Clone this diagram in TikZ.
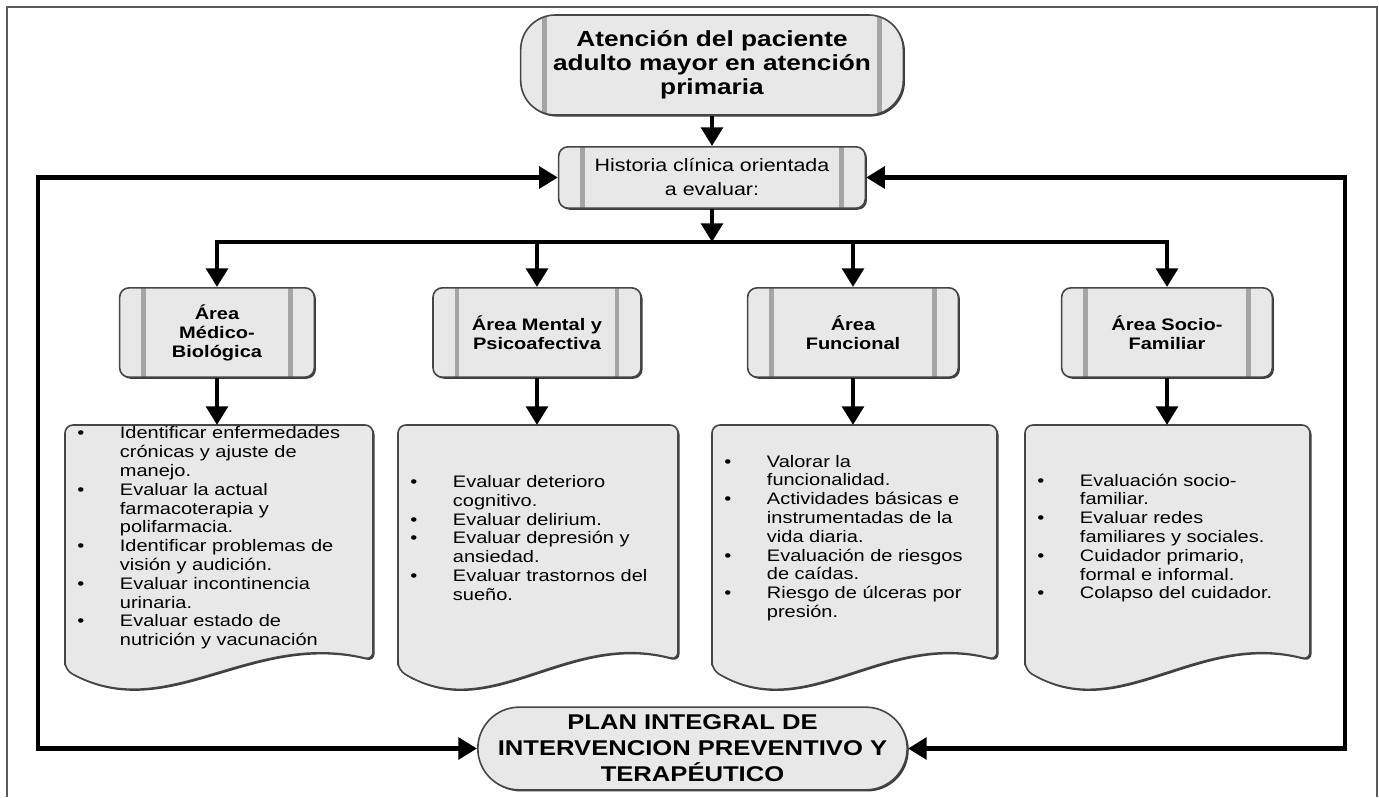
\documentclass[tikz,border=0pt]{standalone}
\usepackage{fontspec}
\setmainfont{Liberation Sans}[FakeStretch=1.2]
\usepackage{tikz}
\usetikzlibrary{arrows.meta,positioning,shadows,calc}
\definecolor{boxfill}{RGB}{232,232,232}
\definecolor{boxline}{RGB}{70,70,70}
\definecolor{barcol}{RGB}{165,165,165}
\definecolor{framecol}{RGB}{90,90,90}
\newcommand{\comma}{,}
\newcommand{\bul}{\makebox[32pt][l]{\textbullet}}
\newcommand{\cnt}{\hspace*{32pt}}
\tikzset{
  boxshadow/.style={drop shadow={shadow xshift=1.2pt,shadow yshift=-1.2pt,fill=black!85,opacity=0.9}},
  bars/.style={path picture={
      \draw[barcol,line width=3.5pt] ([xshift=#1]path picture bounding box.south west) -- ([xshift=#1]path picture bounding box.north west);
      \draw[barcol,line width=3.5pt] ([xshift=-#1]path picture bounding box.south east) -- ([xshift=-#1]path picture bounding box.north east);}},
  procbox/.style={rectangle,fill=boxfill,draw=boxline,line width=1.2pt,boxshadow,align=center,inner sep=2pt},
  flow/.style={line width=3.5pt,-{Triangle[width=16pt,length=14pt]}},
  twoway/.style={line width=3.5pt,{Triangle[width=16pt,length=14pt]}-{Triangle[width=16pt,length=14pt]}},
  docshape/.style={fill=boxfill,draw=boxline,line width=1.2pt,rounded corners=6pt,boxshadow}
}

\begin{document}
\begin{tikzpicture}[x=0.75pt,y=-0.75pt]
    \useasboundingbox (0,0) rectangle (1379,797);
    \draw[framecol,line width=1.5pt] (7,797) -- (7,7) -- (1377,7) -- (1377,797);
    \node[procbox,bars=18pt,rounded corners=26pt,minimum width=287pt,minimum height=75pt,font=\fontsize{16.4}{18}\selectfont\bfseries] (aten) at (712,65) {Atención del paciente\\adulto mayor en atención\\primaria};
    \node[procbox,bars=18pt,rounded corners=7pt,minimum width=230pt,minimum height=46pt,font=\fontsize{13.4}{18}\selectfont] (hist) at (712,177.5) {Historia clínica orientada\\a evaluar:};
    \node[procbox,rounded corners=31pt,minimum width=322pt,minimum height=62pt,font=\fontsize{16}{19.5}\selectfont\bfseries] (plan) at (692.5,748.5) {PLAN INTEGRAL DE\\INTERVENCION PREVENTIVO Y\\TERAPÉUTICO};
    \coordinate (busL) at (217,242);
    \coordinate (busR) at (1167,242);
    \coordinate (loopL) at (38,0);
    \coordinate (loopR) at (1345,0);
    \draw[flow] (aten) -- (hist);
    \draw[flow] (hist) -- (hist |- busL);
    \draw[line width=3.5pt,line cap=rect] (busL) -- (busR);
    \draw[twoway] (hist.west) -| (loopL |- plan.west) -- (plan.west);
    \draw[twoway] (hist.east) -| (loopR |- plan.east) -- (plan.east);
    \foreach \i/\x/\w/\l/\r/\t/\d in {
      1/217/146/65/373/Área\\Médico-\\Biológica/\bul Identificar enfermedades\\\cnt crónicas y ajuste de\\\cnt manejo.\\\bul Evaluar la actual\\\cnt farmacoterapia y\\\cnt polifarmacia.\\\bul Identificar problemas de\\\cnt visión y audición.\\\bul Evaluar incontinencia\\\cnt urinaria.\\\bul Evaluar estado de\\\cnt nutrición y vacunación,
      2/537/156/398/678/Área Mental y\\Psicoafectiva/\bul Evaluar deterioro\\\cnt cognitivo.\\\bul Evaluar delirium.\\\bul Evaluar depresión y\\\cnt ansiedad.\\\bul Evaluar trastornos del\\\cnt sueño.,
      3/853/158/712/997/Área\\Funcional/\bul Valorar la\\\cnt funcionalidad.\\\bul Actividades básicas e\\\cnt instrumentadas de la\\\cnt vida diaria.\\\bul Evaluación de riesgos\\\cnt de caídas.\\\bul Riesgo de úlceras por\\\cnt presión.,
      4/1167/158/1025/1310/Área Socio-\\Familiar/\bul Evaluación socio-\\\cnt familiar.\\\bul Evaluar redes\\\cnt familiares y sociales.\\\bul Cuidador primario\comma\\\cnt formal  e informal.\\\bul Colapso del cuidador.}
    {
      \node[procbox,bars=18pt,rounded corners=7pt,minimum width=\w pt,minimum height=67pt,font=\fontsize{12.5}{14.2}\selectfont\bfseries] (area\i) at (\x,332.5) {\t};
      \draw[flow] (area\i.north |- busL) -- (area\i);
      \node[inner sep=0,minimum width={(\r-\l)*0.75},minimum height=176pt,anchor=north] (doc\i) at ({(\l+\r)/2},425) {};
      \filldraw[docshape] (\l,670) -- (\l,425) -- (\r,425) -- (\r,660) .. controls ({\l+0.6*(\r-\l)},630) and ({\l+0.33*(\r-\l)},725) .. (\l,670) -- cycle;
      \draw[flow] (area\i) -- (area\i |- doc\i.north);
      \node[anchor=west,align=left,inner sep=0,font=\fontsize{12.5}{14.1}\selectfont] (txt\i) at (\l+12,538) {\d};
    }
\end{tikzpicture}
\end{document}
